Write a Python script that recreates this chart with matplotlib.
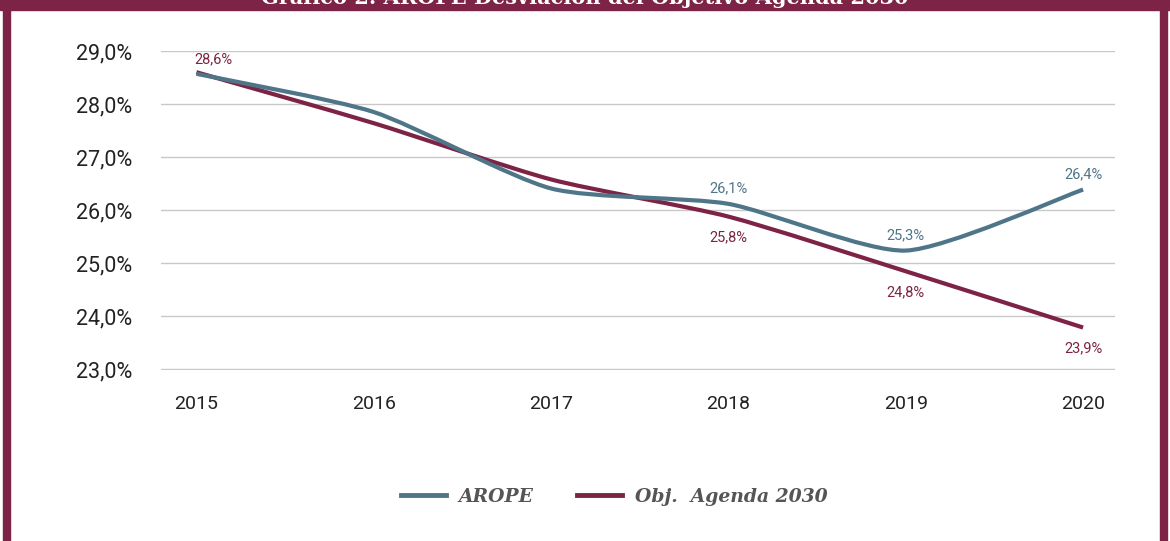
import matplotlib.pyplot as plt
from matplotlib.path import Path
from matplotlib.patches import PathPatch
from matplotlib.lines import Line2D

years = ["2015", "2016", "2017", "2018", "2019", "2020"]
arope = [28.57, 27.85, 26.41, 26.12, 25.24, 26.39]
objetivo = [28.6, 27.64, 26.58, 25.88, 24.85, 23.79]
yticks = [23, 24, 25, 26, 27, 28, 29]

# etiquetas que aparecen en el grafico (indice, texto)
arope_labels = [(3, "26,1%"), (4, "25,3%"), (5, "26,4%")]
obj_labels = [(0, "28,6%"), (3, "25,8%"), (4, "24,8%"), (5, "23,9%")]

azul = "#4f7589"
granate = "#7d2346"
gris = "#555555"


def smooth_path(xs, ys, k=1 / 9):
    # curva suavizada tipo Excel (bezier cubica)
    pts = list(zip(xs, ys))
    n = len(pts)
    verts = [pts[0]]
    codes = [Path.MOVETO]
    for i in range(n - 1):
        p0 = pts[i - 1] if i > 0 else pts[i]
        p1 = pts[i]
        p2 = pts[i + 1]
        p3 = pts[i + 2] if i + 2 < n else pts[i + 1]
        c1 = (p1[0] + (p2[0] - p0[0]) * k, p1[1] + (p2[1] - p0[1]) * k)
        c2 = (p2[0] - (p3[0] - p1[0]) * k, p2[1] - (p3[1] - p1[1]) * k)
        verts += [c1, c2, p2]
        codes += [Path.CURVE4] * 3
    return Path(verts, codes)


fig = plt.figure(figsize=(11.7, 5.41), dpi=100)
W, H = 1170, 541

# marco granate
fig.patches.append(plt.Rectangle((0, 1 - 10 / H), 1, 10 / H, transform=fig.transFigure,
                                 color=granate, zorder=0))
fig.patches.append(plt.Rectangle((3 / W, 0), 7 / W, 1, transform=fig.transFigure,
                                 color=granate, zorder=0))
fig.patches.append(plt.Rectangle((1160 / W, 0), 7 / W, 1, transform=fig.transFigure,
                                 color=granate, zorder=0))
fig.text(0.5, 1 - 4 / H, "Gráfico 2. AROPE Desviación del Objetivo Agenda 2030",
         ha="center", va="baseline", color="white", fontsize=15, fontweight="bold",
         family="DejaVu Serif")

ax = fig.add_axes([161 / W, 1 - 370 / H, (1115 - 161) / W, (370 - 51) / H])
x = list(range(len(years)))
ax.set_xlim(-0.2, 5.18)
ax.set_ylim(22.99, 29.0)
ax.set_yticks(yticks)
ax.set_yticklabels([f"{v},0%" for v in yticks])
ax.set_xticks(x)
ax.set_xticklabels(years)
ax.grid(axis="y", color="#c8c8c8", linewidth=1)
ax.set_axisbelow(True)
for s in ax.spines.values():
    s.set_visible(False)
ax.tick_params(length=0)
ax.tick_params(axis="y", pad=21, labelsize=15.5, labelcolor="#222222")
ax.tick_params(axis="x", pad=18, labelsize=14, labelcolor="#222222")
for lab in ax.get_yticklabels() + ax.get_xticklabels():
    lab.set_family("Roboto")

ax.add_patch(PathPatch(smooth_path(x, objetivo), fill=False, edgecolor=granate,
                       linewidth=3, capstyle="butt", zorder=3))
ax.add_patch(PathPatch(smooth_path(x, arope), fill=False, edgecolor=azul,
                       linewidth=3, capstyle="butt", zorder=4))

for i, t in arope_labels:
    ax.annotate(t, (x[i], arope[i]), xytext=(0, 6), textcoords="offset points",
                ha="center", va="bottom", color=azul, fontsize=10.5, family="Roboto")
for i, t in obj_labels:
    dy = 4 if i == 0 else -10
    dx = 12 if i == 0 else 0
    ax.annotate(t, (x[i], objetivo[i]), xytext=(dx, dy), textcoords="offset points",
                ha="center", va="bottom" if dy > 0 else "top", color=granate,
                fontsize=10.5, family="Roboto")

handles = [Line2D([], [], color=azul, linewidth=3.5),
           Line2D([], [], color=granate, linewidth=3.5)]
leg = fig.legend(handles, ["AROPE", "Obj.  Agenda 2030"], loc="center",
                 bbox_to_anchor=(614 / W, 1 - 497 / H), ncol=2, frameon=False,
                 handlelength=2.4, columnspacing=2.3, handletextpad=0.7,
                 prop={"family": "DejaVu Serif", "style": "italic", "weight": "bold", "size": 13.5})
for t in leg.get_texts():
    t.set_color(gris)

fig.savefig("out.png", dpi=100, facecolor="white")
